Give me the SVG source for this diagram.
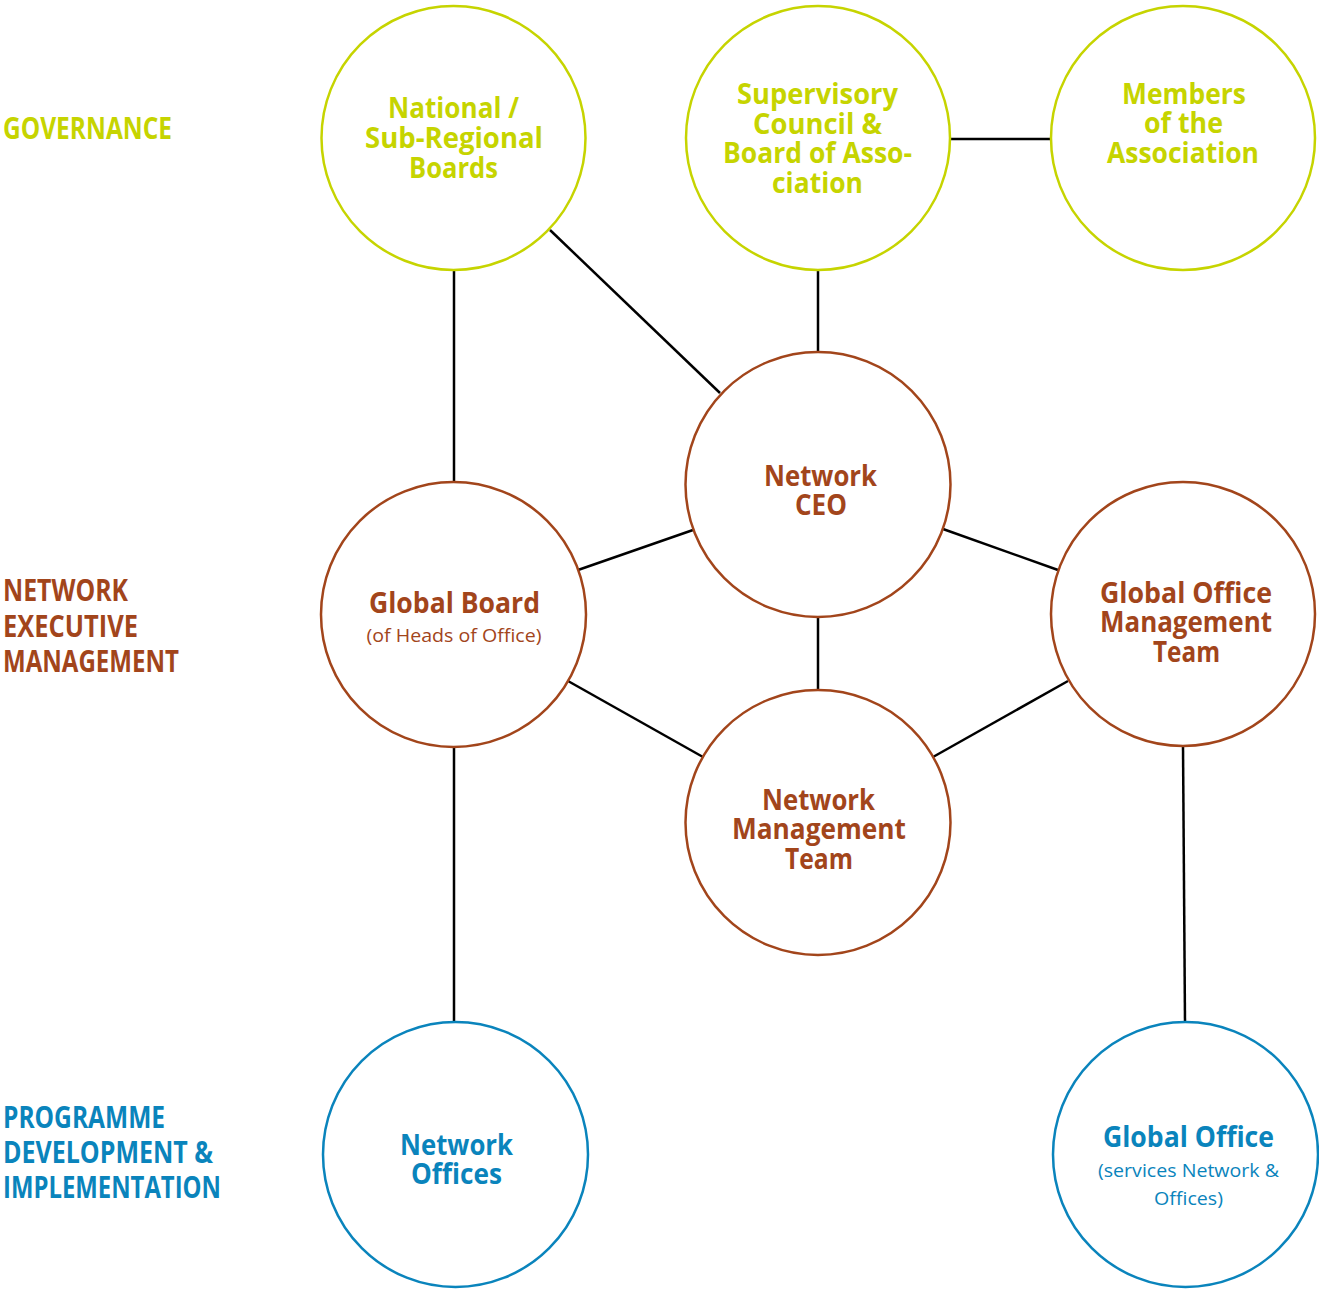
<svg xmlns="http://www.w3.org/2000/svg" width="1319" height="1291" viewBox="0 0 1319 1291">
<style>
.c{fill:#fff;stroke-width:2.5}
.g{stroke:#c6d400}
.b{stroke:#a2451b}
.u{stroke:#0a84bc}
.t{font-family:"Open Sans","Noto Sans",sans-serif;font-weight:700;font-size:29px;text-anchor:middle}
.s{font-family:"Open Sans","Noto Sans",sans-serif;font-weight:400;font-size:19px;text-anchor:middle}
.l{font-family:"Open Sans","Noto Sans",sans-serif;font-weight:700;font-size:30px}
.tg{fill:#c6d400}
.tb{fill:#a2451b}
.tu{fill:#0a84bc}
#connectors line{stroke:#000;stroke-width:2.5}
</style>
<rect width="1319" height="1291" fill="#fff"/>
<g id="connectors">
<line x1="454" y1="270" x2="454" y2="482"/>
<line x1="550" y1="230" x2="720" y2="393"/>
<line x1="818" y1="270" x2="818" y2="352"/>
<line x1="950" y1="139" x2="1051" y2="139"/>
<line x1="578" y1="570" x2="693" y2="530"/>
<line x1="943" y1="529" x2="1058" y2="570"/>
<line x1="818" y1="617" x2="818" y2="690"/>
<line x1="568" y1="681" x2="703" y2="757"/>
<line x1="1068" y1="681" x2="933" y2="757"/>
<line x1="454" y1="747" x2="454" y2="1022"/>
<line x1="1183" y1="746" x2="1185" y2="1022"/>
</g>
<g id="labels">
<text class="l tg" x="3" y="139" textLength="169" lengthAdjust="spacingAndGlyphs">GOVERNANCE</text>
<text class="l tb" x="3" y="601" textLength="125" lengthAdjust="spacingAndGlyphs">NETWORK</text>
<text class="l tb" x="3" y="637" textLength="135" lengthAdjust="spacingAndGlyphs">EXECUTIVE</text>
<text class="l tb" x="3" y="672" textLength="176" lengthAdjust="spacingAndGlyphs">MANAGEMENT</text>
<text class="l tu" x="3" y="1128" textLength="162" lengthAdjust="spacingAndGlyphs">PROGRAMME</text>
<text class="l tu" x="3" y="1163" textLength="210" lengthAdjust="spacingAndGlyphs">DEVELOPMENT &amp;</text>
<text class="l tu" x="3" y="1198" textLength="218" lengthAdjust="spacingAndGlyphs">IMPLEMENTATION</text>
</g>
<g id="national-boards">
<circle class="c g" cx="453.5" cy="138" r="132"/>
<text class="t tg" x="453.5" y="118" textLength="131" lengthAdjust="spacingAndGlyphs">National /</text>
<text class="t tg" x="454" y="148" textLength="178" lengthAdjust="spacingAndGlyphs">Sub-Regional</text>
<text class="t tg" x="453.5" y="178" textLength="89" lengthAdjust="spacingAndGlyphs">Boards</text>
</g>
<g id="supervisory-council">
<circle class="c g" cx="818" cy="138" r="132"/>
<text class="t tg" x="817.5" y="104" textLength="161" lengthAdjust="spacingAndGlyphs">Supervisory</text>
<text class="t tg" x="817.5" y="134" textLength="129" lengthAdjust="spacingAndGlyphs">Council &amp;</text>
<text class="t tg" x="817.5" y="163" textLength="189" lengthAdjust="spacingAndGlyphs">Board of Asso-</text>
<text class="t tg" x="817.5" y="193" textLength="91" lengthAdjust="spacingAndGlyphs">ciation</text>
</g>
<g id="members">
<circle class="c g" cx="1183" cy="138" r="132"/>
<text class="t tg" x="1184" y="104" textLength="124" lengthAdjust="spacingAndGlyphs">Members</text>
<text class="t tg" x="1183.5" y="133" textLength="79" lengthAdjust="spacingAndGlyphs">of the</text>
<text class="t tg" x="1183" y="163" textLength="152" lengthAdjust="spacingAndGlyphs">Association</text>
</g>
<g id="network-ceo">
<circle class="c b" cx="818" cy="484.5" r="132.5"/>
<text class="t tb" x="820.5" y="486" textLength="113" lengthAdjust="spacingAndGlyphs">Network</text>
<text class="t tb" x="821" y="515" textLength="52" lengthAdjust="spacingAndGlyphs">CEO</text>
</g>
<g id="global-board">
<circle class="c b" cx="453.5" cy="614.5" r="132.5"/>
<text class="t tb" x="454.5" y="613" textLength="171" lengthAdjust="spacingAndGlyphs">Global Board</text>
<text class="s tb" x="454" y="642" textLength="175" lengthAdjust="spacingAndGlyphs">(of Heads of Office)</text>
</g>
<g id="global-office-management-team">
<circle class="c b" cx="1183" cy="614" r="132"/>
<text class="t tb" x="1186" y="603" textLength="172" lengthAdjust="spacingAndGlyphs">Global Office</text>
<text class="t tb" x="1186" y="632" textLength="172" lengthAdjust="spacingAndGlyphs">Management</text>
<text class="t tb" x="1186.5" y="662" textLength="67" lengthAdjust="spacingAndGlyphs">Team</text>
</g>
<g id="network-management-team">
<circle class="c b" cx="818" cy="822.5" r="132.5"/>
<text class="t tb" x="818.5" y="810" textLength="113" lengthAdjust="spacingAndGlyphs">Network</text>
<text class="t tb" x="819" y="839" textLength="174" lengthAdjust="spacingAndGlyphs">Management</text>
<text class="t tb" x="819" y="869" textLength="68" lengthAdjust="spacingAndGlyphs">Team</text>
</g>
<g id="network-offices">
<circle class="c u" cx="455.5" cy="1154.5" r="132.5"/>
<text class="t tu" x="456.5" y="1155" textLength="113" lengthAdjust="spacingAndGlyphs">Network</text>
<text class="t tu" x="456.5" y="1184" textLength="91" lengthAdjust="spacingAndGlyphs">Offices</text>
</g>
<g id="global-office">
<circle class="c u" cx="1185.5" cy="1154.5" r="132.5"/>
<text class="t tu" x="1188.5" y="1147" textLength="171" lengthAdjust="spacingAndGlyphs">Global Office</text>
<text class="s tu" x="1188.5" y="1177" textLength="181" lengthAdjust="spacingAndGlyphs">(services Network &amp;</text>
<text class="s tu" x="1188.5" y="1205" textLength="69" lengthAdjust="spacingAndGlyphs">Offices)</text>
</g>
</svg>
